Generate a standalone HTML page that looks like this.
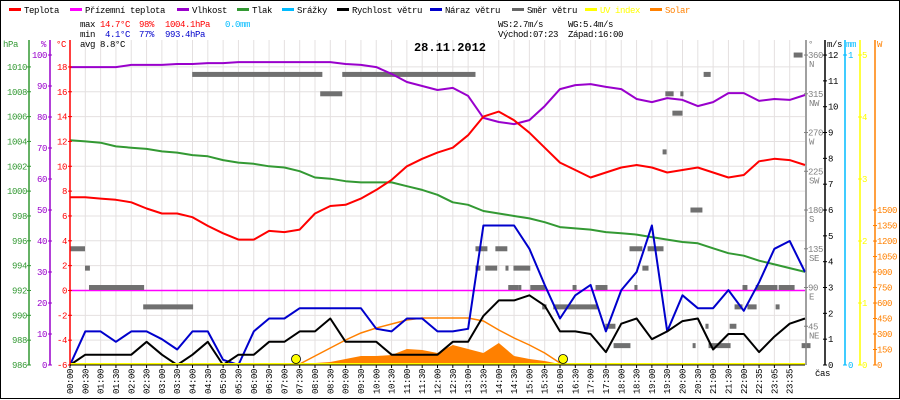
<!DOCTYPE html>
<html><head><meta charset="utf-8">
<style>
html,body{margin:0;padding:0;background:#fff;}
svg{display:block;}
text{font-family:"Liberation Mono",monospace;font-size:9px;letter-spacing:-0.4px;}
</style></head>
<body>
<svg id="chart" width="900" height="400" viewBox="0 0 900 400" xmlns="http://www.w3.org/2000/svg">
<rect x="0.5" y="0.5" width="899" height="398" fill="#fff" stroke="#000"/>
<g id="grid"></g>
<g id="series"></g>
<g id="axes"></g>
<g id="legend"></g>
<g id="stats">
<text x="80" y="27">max</text>
<text x="100" y="27" fill="#f00">14.7°C</text>
<text x="139" y="27" fill="#f00">98%</text>
<text x="165" y="27" fill="#f00">1004.1hPa</text>
<text x="225" y="27" fill="#00bbff">0.0mm</text>
<text x="80" y="37">min</text>
<text x="105" y="37" fill="#0000cc">4.1°C</text>
<text x="139" y="37" fill="#0000cc">77%</text>
<text x="165" y="37" fill="#0000cc">993.4hPa</text>
<text x="80" y="47">avg</text>
<text x="100" y="47">8.8°C</text>
<text x="498" y="27">WS:2.7m/s</text>
<text x="568" y="27">WG:5.4m/s</text>
<text x="498" y="37">Východ:07:23</text>
<text x="568" y="37">Západ:16:00</text>
<text x="450" y="51" text-anchor="middle" style="font-size:12px;font-weight:bold;letter-spacing:0">28.11.2012</text>
</g>
</svg>
<script>
// ---- data (30-minute samples, 00:00 .. 24:00) ----
const temp = [7.5,7.5,7.4,7.3,7.1,6.6,6.2,6.2,5.9,5.2,4.6,4.1,4.1,4.8,4.7,4.9,6.2,6.8,6.9,7.4,8.1,8.9,10.0,10.6,11.1,11.5,12.5,14.0,14.4,13.7,12.7,11.5,10.3,9.7,9.1,9.5,9.9,10.1,9.9,9.5,9.7,9.9,9.5,9.1,9.3,10.4,10.6,10.5,10.1];
const humidity = [96.1,96.1,96.1,96.1,96.8,96.8,96.8,97.1,97.1,97.4,97.4,97.7,97.7,97.7,97.7,97.7,97.7,97.7,97.1,96.8,96.1,93.9,91.3,90.0,88.7,89.4,86.8,79.7,78.4,77.7,79.0,83.5,89.0,90.3,90.6,89.7,89.0,85.8,84.8,86.1,85.5,83.5,84.8,87.7,87.7,85.2,85.8,85.5,87.1];
const pressure = [1004.1,1004.0,1003.9,1003.6,1003.5,1003.4,1003.2,1003.1,1002.9,1002.8,1002.5,1002.3,1002.2,1002.0,1001.9,1001.6,1001.1,1001.0,1000.8,1000.7,1000.7,1000.7,1000.4,1000.1,999.7,999.1,998.9,998.4,998.2,998.0,997.8,997.5,997.1,997.0,996.9,996.7,996.6,996.5,996.3,996.1,995.9,995.8,995.4,995.0,994.8,994.4,994.1,993.8,993.5];
const windSpeed = [0,0.4,0.4,0.4,0.4,0.9,0.4,0,0.4,0.9,0,0.4,0.4,0.9,0.9,1.3,1.3,1.8,0.9,0.9,0.9,0.4,0.4,0.4,0.4,0.9,0.9,1.9,2.5,2.5,2.7,2.3,1.3,1.3,1.2,0.5,1.6,1.8,1.0,1.3,1.7,1.8,0.6,1.2,1.2,0.5,1.1,1.6,1.8];
const windGust = [0,1.3,1.3,0.9,1.3,1.3,1.0,0.6,1.3,1.3,0.2,0,1.3,1.8,1.8,2.2,2.2,2.2,2.2,2.2,1.4,1.3,1.8,1.8,1.3,1.3,1.4,5.4,5.4,5.4,4.5,3.1,1.8,2.7,3.1,1.3,2.9,3.6,5.4,1.3,2.7,2.2,2.2,2.9,2.1,3.2,4.5,4.8,3.6];
const solarActual = [0,0,0,0,0,0,0,0,0,0,0,0,0,0,0,0,19,29,58,87,87,97,155,145,116,194,155,116,213,87,58,39,10,0,0,0,0,0,0,0,0,0,0,0,0,0,0,0,0];
const solarTheory = [0,0,0,0,0,0,0,0,0,0,0,0,0,0,0,10,87,165,242,310,358,397,436,455,455,455,455,426,339,261,194,116,19,0,0,0,0,0,0,0,0,0,0,0,0,0,0,0,0];
const groundTemp = 0;
const uvIndex = 0;
const sunTimes = [7.38, 16.1];
// wind direction dashes: start hour, end hour, degrees
const dirStart = [0,0.49,0.62,2.39,3.99,8.17,8.89,13.24,13.89,13.24,13.56,14.22,14.48,14.31,14.64,15.03,15.42,15.78,16.41,17.16,17.48,17.75,18.27,18.86,18.69,18.43,19.44,19.93,19.67,19.35,20.69,20.26,20.33,20.85,20.75,21.54,21.70,22.12,23.04,21.96,22.39,23.14,23.63,23.89];
const dirEnd   = [0.49,0.65,2.42,4.02,8.24,8.89,13.24,13.63,14.28,13.40,13.95,14.31,15.03,14.64,14.71,15.52,15.56,17.22,16.54,17.55,17.81,18.30,18.69,19.38,18.89,18.53,19.71,20.03,20.00,19.48,20.92,20.65,20.42,21.57,20.85,21.76,21.96,22.42,23.17,22.12,23.10,23.66,23.92,24.18];
const dirDeg   = [135,112.5,90,67.5,337.5,315,337.5,135,135,112.5,112.5,112.5,112.5,90,90,90,67.5,67.5,90,90,45,22.5,135,135,112.5,90,315,315,292.5,247.5,337.5,180,22.5,22.5,45,45,67.5,67.5,67.5,90,90,90,360,22.5];
const timeLabels = ["00:00","00:30","01:00","01:30","02:00","02:30","03:00","03:30","04:00","04:30","05:00","05:30","06:00","06:30","07:00","07:30","08:00","08:30","09:00","09:30","10:00","10:30","11:00","11:30","12:00","12:30","13:00","13:30","14:00","14:30","15:00","15:30","16:00","16:30","17:00","17:30","18:00","18:30","19:00","19:30","20:00","20:30","21:00","21:30","22:00","22:35","23:05","23:35"];
const hpaTicks = [986,988,990,992,994,996,998,1000,1002,1004,1006,1008,1010];
const pctTicks = [0,10,20,30,40,50,60,70,80,90,100];
const degCTicks = [-6,-4,-2,0,2,4,6,8,10,12,14,16,18];
const dirTicks = [45,90,135,180,225,270,315,360];
const dirNames = ["NE","E","SE","S","SW","W","NW","N"];
const msTicks = [0,1,2,3,4,5,6,7,8,9,10,11,12];
const mmTicks = [0,1];
const uvTicks = [0,1,2,3,4,5];
const wTicks = [0,150,300,450,600,750,900,1050,1200,1350,1500];

// ---- scales ----
const X0=70, X1=805, Y0=365, YT=40;
const xT = t => X0 + t*(X1-X0)/24;
const xI = i => xT(i*0.5);
const yC = v => Y0 - (v+6)*12.42;
const yP = v => Y0 - v*3.1;
const yH = v => Y0 - (v-986)*12.42;
const yMS = v => Y0 - v*25.83;
const yDir = v => Y0 - v*0.861;
const yW = v => Y0 - v*0.1033;
const yMM = v => Y0 - v*310;
const yUV = v => Y0 - v*62;

const NS="http://www.w3.org/2000/svg";
function el(tag, attrs, parent, txt){
  const e=document.createElementNS(NS,tag);
  for(const k in attrs) e.setAttribute(k,attrs[k]);
  if(txt!==undefined) e.textContent=txt;
  parent.appendChild(e); return e;
}
const grid=document.getElementById('grid'), ser=document.getElementById('series'), axes=document.getElementById('axes'), leg=document.getElementById('legend');

// grid
degCTicks.forEach(v=>{
  const l=el('line',{x1:X0,x2:X1,y1:yC(v),y2:yC(v),stroke:'#e4e0e0','stroke-width':1},grid);
  
  
});
timeLabels.forEach((lab,i)=>{
  const x=xI(i);
  const l=el('line',{x1:x,x2:x,y1:YT,y2:Y0,stroke:'#e4e0e0','stroke-width':1},grid);
  
  
  const tk=el('line',{x1:x,x2:x,y1:Y0,y2:Y0+3,stroke:'#000'},axes);
  
  
  const t=el('text',{x:0,y:0,transform:`translate(${x+3},${Y0+29}) rotate(-90)`,'font-size':'9'},axes,lab);
  
  
});

// solar theoretical & actual
function pathOf(arr, yf){ return arr.map((v,i)=>(i?'L':'M')+xI(i).toFixed(1)+','+yf(v).toFixed(1)).join(''); }
let area='M'+xI(0)+','+Y0;
solarActual.forEach((v,i)=>{area+='L'+xI(i).toFixed(1)+','+yW(v).toFixed(1);});
area+='L'+xI(solarActual.length-1)+','+Y0+'Z';
const sa=el('path',{d:area,fill:'#ff8000',stroke:'none'},ser);


let th='';
solarTheory.forEach((v,i)=>{ if(i>=14 && i<=33){ th+=(th?'L':'M')+xI(i).toFixed(1)+','+yW(v).toFixed(1);} });
const st=el('path',{d:th,fill:'none',stroke:'#ff8000','stroke-width':1.5},ser);



// ground temp & uv
const gt=el('line',{x1:X0,x2:X1,y1:yC(groundTemp),y2:yC(groundTemp),stroke:'#ff00ff','stroke-width':1.5},ser);



// wind direction dashes
dirDeg.forEach((d,i)=>{
  const r=el('rect',{x:xT(dirStart[i]),y:yDir(d)-2.5,width:Math.max(3,xT(dirEnd[i])-xT(dirStart[i])),height:5,fill:'#707070'},ser);
  
  
});

function line(arr,yf,color,name){
  const p=el('path',{d:pathOf(arr,yf),fill:'none',stroke:color,'stroke-width':2,'stroke-linejoin':'round'},ser);
  
  
}
line(pressure,yH,'#339933','pressure-line');
line(humidity,yP,'#9900cc','humidity-line');
line(temp,yC,'#ff0000','temperature-line');
line(windGust,yMS,'#0000cc','wind-gust-line');
line(windSpeed,yMS,'#000000','wind-speed-line');

const uv=el('line',{x1:X0,x2:X1,y1:yUV(uvIndex)-1,y2:yUV(uvIndex)-1,stroke:'#ffff00','stroke-width':2},ser);


sunTimes.forEach(t=>{
  const c=el('circle',{cx:xT(t),cy:359,r:4.5,fill:'#ffff00',stroke:'#000','stroke-width':0.8},ser);
  
  
});

// axes
function vaxis(x,color,ticks,yf,labelX,anchor,title,titleX,name,labelFn){
  const a=el('line',{x1:x,x2:x,y1:YT,y2:Y0,stroke:color,'stroke-width':1.5},axes);
  
  
  const tt=el('text',{x:titleX,y:47,fill:color},axes,title);
  
  
  ticks.forEach((v,i)=>{
    const y=yf(v);
    const tk=el('line',{x1:x-2,x2:x+2,y1:y,y2:y,stroke:color},axes);
    
    
    const t=el('text',{x:labelX,y:y+3,fill:color,'text-anchor':anchor},axes,labelFn?labelFn(v,i):String(v));
    
    
  });
}
vaxis(29,'#339933',hpaTicks,yH,27,'end','hPa',3,'pressure-axis');
vaxis(50,'#9900cc',pctTicks,yP,47,'end','%',41,'humidity-axis');
vaxis(70,'#ff0000',degCTicks,yC,67,'end','°C',56,'temperature-axis');
vaxis(806,'#808080',dirTicks,yDir,808,'start','°',808,'direction-axis');
dirTicks.forEach((v,i)=>{
  const t=el('text',{x:809,y:yDir(v)+12,fill:'#808080'},axes,dirNames[i]);
  
  
});
vaxis(825,'#000000',msTicks,yMS,828,'start','m/s',827,'wind-axis');
vaxis(845,'#00bbff',mmTicks,yMM,848,'start','mm',846,'rain-axis');
vaxis(860,'#ffff00',uvTicks,yUV,862,'start','',862,'uv-axis');
vaxis(875,'#ff8000',wTicks,yW,877,'start','W',877,'solar-axis');
const xl=el('line',{x1:X0,x2:X1,y1:Y0,y2:Y0,stroke:'#000'},axes);


const cas=el('text',{x:815,y:376},axes,'čas');



// legend
const legNames=["Teplota","Přízemní teplota","Vlhkost","Tlak","Srážky","Rychlost větru","Náraz větru","Směr větru","UV index","Solar"];
const legColors=["#ff0000","#ff00ff","#9900cc","#339933","#00bbff","#000000","#0000cc","#666666","#ffff00","#ff8000"];
const legX=[9,70,177,237,282,337,430,512,585,650];
legNames.forEach((n,i)=>{
  const r=el('rect',{x:legX[i],y:8,width:12,height:3,fill:legColors[i]},leg);
  
  
  const t=el('text',{x:legX[i]+15,y:13,fill:(i>=8?legColors[i]:'#000')},leg,n);
  
  
});
</script>
</body></html>
